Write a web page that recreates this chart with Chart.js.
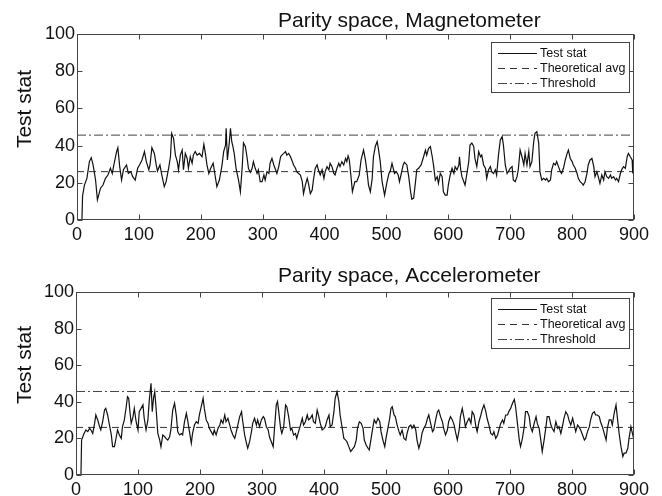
<!DOCTYPE html>
<html><head><meta charset="utf-8">
<script src="https://cdn.jsdelivr.net/npm/chart.js@4.4.1/dist/chart.umd.min.js"></script>
<style>
html,body{margin:0;padding:0;background:#fff;}
#wrap{position:relative;width:662px;height:496px;overflow:hidden;}
canvas{position:absolute;left:0;}
</style></head><body>
<div id="wrap">
<canvas id="c1" width="662" height="248" style="top:0"></canvas>
<canvas id="c2" width="662" height="248" style="top:248px"></canvas>
</div>
<script>
// ---------- data ----------
const titles = ["Parity space, Magnetometer", "Parity space, Accelerometer"];
const yAxisLabel = "Test stat";
const legendLabels = ["Test stat", "Theoretical avg", "Threshold"];
const xTickRange = [0, 900];
const yTickRange = [0, 100];
const xTickStep = 100;
const yTickStep = 20;
const avgValue = 26;
const thresholdValue = 45.64;

const magT = [8,9,12,16,20,23,26,30,33,38,42,46,50,54,57,59,64,66,69,72,75,80,83,87,90,94,98,101,105,109,112,116,118,121,125,128,130,134,137,141,144,148,151,153,156,159,162,164,167,170,172,175,178,180,183,186,188,191,194,198,202,205,207,210,213,216,220,223,226,230,234,237,240,241,243,246,248,250,252,254,257,261,264,267,269,272,275,277,280,283,285,288,291,293,296,
299,302,304,307,310,312,315,318,320,323,326,329,331,334,337,339,342,345,347,350,353,355,358,361,364,366,369,372,374,377,380,382,385,388,390,393,396,399,401,404,407,409,412,415,417,420,423,425,428,431,434,436,438,440,443,445,449,452,456,459,463,466,469,471,474,477,479,482,485,487,490,493,497,501,504,506,509,511,513,516,519,521,524,527,529,533,536,539,541,544,547,549,552,556,560,563,565,568,571,574,576,579,582,584,587,590,592,595,
598,600,603,606,609,611,614,617,618,620,622,625,627,630,633,635,638,641,643,646,649,652,654,657,660,662,665,668,670,673,676,678,681,684,687,689,692,695,697,700,703,705,708,711,713,716,719,722,724,727,730,732,735,738,740,743,746,748,751,754,757,759,762,765,767,770,773,775,778,781,783,786,789,792,794,797,800,802,805,808,810,813,816,818,821,824,826,829,832,835,837,840,843,845,848,851,853,856,859,862,864,867,870,872,875,878,880,883,886,889,891,894,897,898];
const magStat = [0,13,18.8,22.4,31.4,33.5,29.6,21.5,10.8,17.1,18.8,22.4,24.2,27.8,25,28.7,36.8,38.9,28.7,21.5,27,29.6,25,26,23.3,21.5,27.8,29.6,32.3,36.8,31.4,27,29.6,38.9,35.8,29.6,26.3,29.6,24.2,17.9,20.6,27.8,34,46.6,43.9,34.9,31.4,27,34.9,37.6,27,35.8,33.1,27.8,34,30.5,34.9,36.8,34.9,35.8,34,40.7,36.8,29.6,25,27.8,30.5,24.2,17.9,21.5,28.7,36.8,40.3,49.3,32.3,41.4,49.3,42.2,39.5,35.8,27.8,21.5,15.2,28.7,41.4,39.5,33.1,27.8,25.6,27.8,31.4,27.8,25,27,20.6,
20.6,24.2,21.5,26,25,30.5,33.1,29.6,27.8,25,28.7,34,34.9,35.8,36.8,34.9,35.8,34,32.3,29.6,27.8,26,25,24.2,20.6,14.2,18.8,22.4,19.7,14.2,16.1,21.5,27.8,29.6,27,24.2,27,22.4,26,28.7,27,30.5,28.7,25,24.2,27.8,30.5,28.7,31.4,29.6,33.1,31.4,34.5,32.3,22.4,15.2,20.6,20.6,24.2,32.3,37.6,32.3,25,18.8,15.2,22.4,34,39.5,42.2,38.4,31.4,20.6,13.4,20.6,25,26,30.5,27.8,25,26,24.2,20.6,25,29.6,31,29.6,23.3,15.2,11.2,11.8,20.6,27,27.8,29.6,34,37.6,34.9,38.4,39.5,34,29.6,21.5,23.3,19.7,25,23.3,15.2,13.4,
13.4,18.8,24.2,27.8,25,28.7,27,29.6,34,27,23.3,20.6,18.8,25,31.4,40.3,41.4,39.5,33.1,28.7,36.8,34,34.9,29.6,27.8,22.4,27,28.7,26,25,27,24.2,34.9,43,44.8,40.3,29.6,25,26,27.8,28.7,21.5,20.6,23.3,27,37.6,34,29.6,35.8,29.6,36.8,28.7,31.4,42.2,46.6,47.5,41.4,26,21.5,22.4,21.5,22.4,20.6,21.5,27,30.5,29.6,31.4,28.7,26,25,27.8,32.3,35.8,37.6,33.1,31.4,29.6,27.8,25,22.4,20.6,19.7,18.8,20.6,25,29.6,32.3,33.1,28.7,23.3,26,22.4,19.7,24.2,21.5,26,23.3,22.4,24.2,22.4,23.3,21.5,22.4,20.6,25,27,28.7,27.8,34,35.8,34,32.3,25];

const accT = [8,9,11,13,16,19,22,24,27,30,32,35,38,40,43,46,48,51,54,57,59,62,65,67,70,73,75,78,81,83,85,87,89,92,94,97,100,102,105,108,110,113,116,118,121,123,125,127,129,132,135,137,140,143,145,148,151,153,156,159,162,164,167,170,172,175,178,180,183,186,188,191,194,197,199,202,205,207,210,213,215,218,221,223,226,229,232,234,237,240,242,245,248,250,253,256,258,261,264,267,269,272,275,277,280,283,285,288,291,293,296,299,302,304,307,310,312,315,318,320,323,325,327,330,332,335,338,340,343,346,348,351,354,356,359,362,365,367,370,373,375,378,381,383,386,389,391,394,397,400,402,405,408,410,413,416,418,421,424,426,429,432,435,437,440,443,445,
449,452,454,457,460,463,465,468,471,473,476,479,481,484,487,490,492,495,498,500,503,506,508,510,513,515,518,521,523,526,529,532,534,537,540,542,545,548,550,553,556,558,561,564,567,569,572,575,577,580,583,585,588,591,593,596,599,601,604,607,610,612,615,618,620,623,626,628,631,634,637,639,642,645,647,650,653,655,658,661,663,666,669,672,674,677,680,682,685,688,690,693,696,698,701,704,707,709,712,715,717,720,723,725,728,731,733,736,739,742,744,747,750,752,755,758,760,763,766,768,771,774,777,779,782,785,787,790,793,795,798,801,803,806,809,811,814,817,820,822,825,828,830,833,836,838,841,844,846,849,852,855,857,860,863,865,868,871,873,876,879,882,884,887,890,892,895,898,900];
const accStat = [0,19.1,20.9,22.7,24.6,23.7,25.5,24.6,22.7,28.2,32.8,30.1,26.4,24.6,29.1,35.5,36.4,32.8,27.3,21.9,15.5,15.5,20.9,24.6,21.9,20,26.4,30.1,37.3,42.8,41.9,34.6,28.2,31.9,36.4,29.1,24.6,34.6,36.4,38.3,31,24.6,30.1,40.1,50.1,34.6,41.9,45.5,37.3,22.7,19.1,15.5,21.9,20.9,20,19.1,20.9,24.6,35.5,39.2,31.9,23.7,21.9,22.7,21.9,29.1,33.7,30.1,23.7,17.3,22.7,27.3,29.1,28.2,32.8,37.3,41.9,36.4,30.1,28.2,25.5,23.7,21.9,24.6,21.9,25.5,27.3,30.1,28.2,32.8,29.1,31,27.3,24.6,21.9,20,22.7,27.3,31.9,34.6,29.1,21.9,17.3,14.6,18.2,23.7,28.2,31,27.3,30.1,26.4,30.1,31.9,31,26.4,24.6,20.9,18.2,15.5,24.6,38.3,40.1,34.6,25.5,22.7,26.4,38.3,37.3,31.9,24.6,25.5,21.9,22.7,20,23.7,27.3,31,27.3,29.1,32.8,30.1,31,32.8,29.1,28.2,35.5,32.8,28.2,24.6,25.5,26.4,30.1,32.8,26.4,27.3,34.6,41.9,45.5,40.1,32.8,26.4,20,19.1,18.2,15.5,12.8,13.7,
15.5,19.1,25.5,29.1,28.2,25.5,19.1,16.4,14.6,13.7,20,26.4,30.1,28.2,31,29.1,23.7,19.1,15.5,20,25.5,31,36.4,37.3,32.8,31.9,27.3,23.7,21.9,24.6,20,19.1,22.7,26.4,27.3,25.5,27.3,24.6,19.1,14.6,18.2,22.7,25.5,27.3,31,32.8,28.2,23.7,24.6,30.1,34.6,35.5,31.9,29.1,25.5,21.9,24.6,29.1,31.9,30.1,27.3,23.7,19.1,24.6,31.9,36.4,31,26.4,29.1,31,28.2,34.6,32.8,26.4,23.7,29.1,32.8,35.5,38.3,34.6,31,27.3,22.7,21.9,23.7,20,21.9,24.6,28.2,30.1,28.2,32.8,32.8,34.6,36.4,39.2,41.3,37.3,28.2,19.1,15.5,20,26.4,34.6,34.6,31.9,26.4,23.7,28.2,31.9,28.2,25.5,18.2,12.8,19.1,26.4,31.9,31.9,27.3,25.5,23.7,29.1,25.5,26.4,22.7,27.3,31,34.6,32.8,30.1,27.3,31,28.2,23.7,27.3,26.4,24.6,21.9,19.1,20,23.7,26.4,30.1,33.7,34.6,32.8,32.8,31.9,29.1,26.4,22.7,19.1,25.5,30.1,30.1,27.3,33.7,38.3,31.9,22.7,15.5,10.1,11.9,11.9,14.6,20,26.4,21.9,19.1];

// ---------- drawing ----------
const FONT = '"Liberation Sans", Arial, Helvetica, sans-serif';
const INK = '#111';
const AXIS = '#444';
const AVG_DASH = [7, 5];
const THR_DASH = [9, 3, 2, 3];

function pairs(xs, ys) { return xs.map((x, i) => ({ x: x, y: ys[i] })); }
function flat(v) { return [{ x: xTickRange[0], y: v }, { x: xTickRange[1], y: v }]; }

const decor = {
  id: 'decor',
  afterDraw(chart, args, o) {
    const ctx = chart.ctx, a = chart.chartArea;
    const xs = chart.scales.x, ys = chart.scales.y;
    ctx.save();
    // box
    ctx.strokeStyle = AXIS; ctx.lineWidth = 1; ctx.setLineDash([]);
    const L = Math.round(a.left) + 0.5, R = Math.round(a.right) - 0.5;
    const T = Math.round(a.top) + 0.5, B = Math.round(a.bottom) - 0.5;
    ctx.strokeRect(L, T, R - L, B - T);
    // inside ticks
    ctx.beginPath();
    for (let v = xTickRange[0]; v <= xTickRange[1]; v += xTickStep) {
      const p = Math.round(xs.getPixelForValue(v)) + 0.5;
      ctx.moveTo(p, B); ctx.lineTo(p, B - 5);
      ctx.moveTo(p, T); ctx.lineTo(p, T + 5);
    }
    for (let v = yTickRange[0]; v <= yTickRange[1]; v += yTickStep) {
      const p = Math.round(ys.getPixelForValue(v)) + 0.5;
      ctx.moveTo(L, p); ctx.lineTo(L + 5, p);
      ctx.moveTo(R, p); ctx.lineTo(R - 5, p);
    }
    ctx.stroke();
    // title
    ctx.fillStyle = INK;
    ctx.font = '21px ' + FONT;
    ctx.textAlign = 'left'; ctx.textBaseline = 'alphabetic';
    ctx.fillText(o.title, o.titleX, o.titleY);
    // y label
    ctx.save();
    ctx.translate(o.ylabX, o.ylabY);
    ctx.rotate(-Math.PI / 2);
    ctx.textAlign = 'center'; ctx.textBaseline = 'middle';
    ctx.font = '21px ' + FONT;
    ctx.fillText(yAxisLabel, 0, 0);
    ctx.restore();
    // legend
    const bx = 491.5, bw = 138, by = Math.round(a.top + o.legOff) + 0.5, bh = 50;
    ctx.fillStyle = '#fff';
    ctx.fillRect(bx, by, bw, bh);
    ctx.strokeStyle = AXIS; ctx.setLineDash([]);
    ctx.strokeRect(bx, by, bw, bh);
    ctx.font = '12.5px ' + FONT;
    ctx.textAlign = 'left'; ctx.textBaseline = 'middle';
    chart.data.datasets.forEach((d, i) => {
      const yy = Math.round(by + 10 + i * 15) + 0.5;
      ctx.strokeStyle = d.borderColor; ctx.lineWidth = 1;
      ctx.setLineDash(d.borderDash || []);
      ctx.beginPath(); ctx.moveTo(498, yy); ctx.lineTo(537, yy); ctx.stroke();
      ctx.fillStyle = INK;
      ctx.fillText(d.label, 540, yy);
    });
    ctx.restore();
  }
};

function makeChart(id, t, s, opt) {
  const H = 248, XH = 30;
  return new Chart(document.getElementById(id), {
    type: 'line',
    data: {
      datasets: [
        { label: legendLabels[0], data: pairs(t, s), borderColor: '#111', borderWidth: 1.2, pointRadius: 0, tension: 0 },
        { label: legendLabels[1], data: flat(avgValue), borderColor: '#333', borderWidth: 1, borderDash: AVG_DASH, pointRadius: 0 },
        { label: legendLabels[2], data: flat(thresholdValue), borderColor: '#444', borderWidth: 1, borderDash: THR_DASH, pointRadius: 0 }
      ]
    },
    options: {
      responsive: false, animation: false, devicePixelRatio: 1, events: [],
      layout: { padding: { left: 0, right: 662 - opt.right, top: opt.top, bottom: H - opt.bottom - XH } },
      plugins: { legend: { display: false }, title: { display: false }, tooltip: { enabled: false }, decor: opt },
      scales: {
        x: {
          type: 'linear', min: xTickRange[0], max: xTickRange[1],
          grid: { display: false, drawTicks: false }, border: { display: false },
          ticks: { stepSize: xTickStep, autoSkip: false, maxRotation: 0, padding: 4, color: INK, font: { size: 18, family: FONT } },
          afterFit(sc) { sc.height = XH; }
        },
        y: {
          type: 'linear', min: yTickRange[0], max: yTickRange[1],
          grid: { display: false, drawTicks: false }, border: { display: false },
          ticks: { stepSize: yTickStep, padding: 2, color: INK, font: { size: 18, family: FONT } },
          afterFit(sc) { sc.width = opt.left; }
        }
      }
    },
    plugins: [decor]
  });
}

makeChart('c1', magT, magStat, { title: titles[0], left: 77, right: 634, top: 34, bottom: 220, titleX: 278, titleY: 27, ylabX: 25, ylabY: 109, legOff: 8 });
makeChart('c2', accT, accStat, { title: titles[1], left: 76, right: 634, top: 44, bottom: 227, titleX: 278, titleY: 34, ylabX: 25, ylabY: 117, legOff: 6 });
</script>
</body></html>
